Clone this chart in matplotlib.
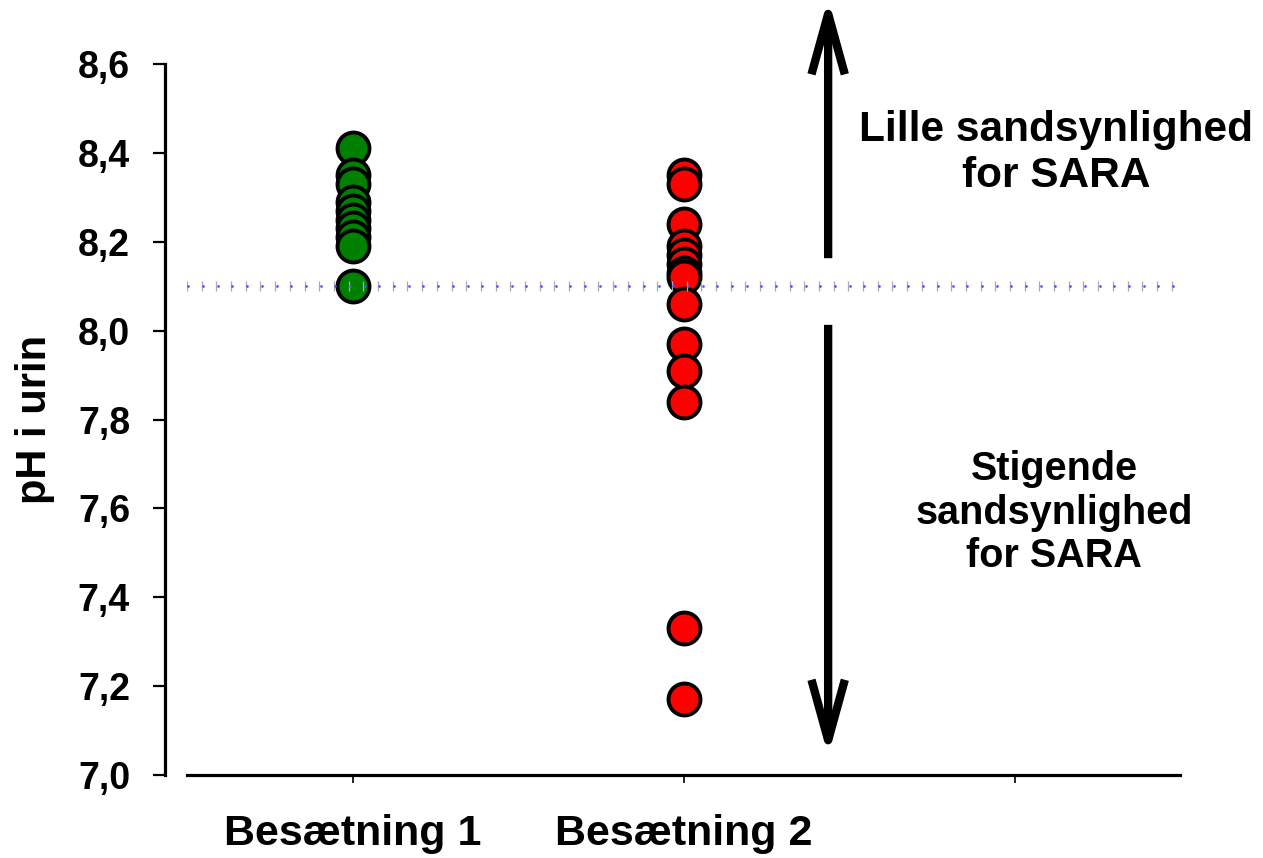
"""
Urine pH per herd, with the 8,1 threshold for SARA risk.
"""

import numpy as np
import matplotlib
matplotlib.use("Agg")
import matplotlib.pyplot as plt
from matplotlib.ticker import FuncFormatter

plt.rcParams['font.family'] = ['Liberation Sans', 'DejaVu Sans']
plt.rcParams['font.weight'] = 'bold'

# Data
herd_labels = ['Besætning 1', 'Besætning 2', '']
herd1_ph = [8.41, 8.35, 8.33, 8.29, 8.27, 8.25, 8.23, 8.21, 8.19, 8.10]
herd2_ph = [8.35, 8.33, 8.24, 8.19, 8.17, 8.15, 8.13, 8.12, 8.06, 7.97, 7.91, 7.84, 7.33, 7.17]
threshold = 8.1
y_ticks = [7.0, 7.2, 7.4, 7.6, 7.8, 8.0, 8.2, 8.4, 8.6]
text_high = 'Lille sandsynlighed\nfor SARA'
text_low = 'Stigende\nsandsynlighed\nfor SARA'

W, H = 1263, 858
fig = plt.figure(figsize=(W / 100, H / 100), dpi=100)
ax = fig.add_axes([187 / W, 1 - 775 / H, (1180 - 187) / W, (775 - 64) / H])

# Points
ax.scatter(np.full(len(herd1_ph), 1), herd1_ph, s=23 ** 2, c='#008000',
           edgecolors='black', linewidths=2.8, zorder=3, clip_on=False)
ax.scatter(np.full(len(herd2_ph), 2), herd2_ph, s=23 ** 2, c='#ff0000',
           edgecolors='black', linewidths=2.8, zorder=3, clip_on=False)

# Threshold line drawn as small tick marks (on top of the points)
xs = np.arange(0.5, 3.5, 0.0444)
ax.plot(xs, np.full(len(xs), threshold), ls='none', marker='|', ms=7,
        mew=0.9, color='#a8a8b8', zorder=4)
ax.plot(xs + 0.004, np.full(len(xs), threshold), ls='none', marker='.',
        ms=1.8, color='#5050ff', zorder=4)

# Arrows
arrow_kw = dict(arrowstyle='->,head_length=1.45,head_width=0.4', lw=6,
                color='black', shrinkA=0, shrinkB=0, mutation_scale=30,
                capstyle='butt', joinstyle='round')
ax.annotate('', xy=(2.437, 8.748), xytext=(2.437, 8.163),
            arrowprops=arrow_kw, annotation_clip=False)
ax.annotate('', xy=(2.437, 7.043), xytext=(2.437, 8.013),
            arrowprops=arrow_kw, annotation_clip=False)

ax.text(3.125, 8.40, text_high, ha='center', va='center', fontsize=30.5,
        fontweight='bold', linespacing=1.2, clip_on=False)
ax.text(3.12, 7.59, text_low, ha='center', va='center', fontsize=28.5,
        fontweight='bold', linespacing=1.18, clip_on=False)

# Axes
ax.set_xlim(0.5, 3.5)
ax.set_ylim(7.0, 8.6)
ax.set_xticks([1, 2, 3])
ax.set_xticklabels(herd_labels, fontsize=31, fontweight='bold')
ax.set_yticks(y_ticks)
ax.yaxis.set_major_formatter(FuncFormatter(lambda v, p: f'{v:.1f}'.replace('.', ',')))
for lab in ax.get_yticklabels():
    lab.set_fontsize(27)
    lab.set_fontweight('bold')
ax.tick_params(axis='y', length=9, width=1.6, pad=16, labelsize=27)
ax.tick_params(axis='x', length=6, width=1.2, pad=22, labelsize=31)

ax.spines['top'].set_visible(False)
ax.spines['right'].set_visible(False)
ax.spines['left'].set_position(('outward', 16))
ax.spines['left'].set_linewidth(2.3)
ax.spines['bottom'].set_linewidth(2.3)

ax.set_ylabel('pH i urin', fontsize=30, fontweight='bold')
ax.yaxis.set_label_coords(-0.133, 0.5)

fig.savefig('out.png', dpi=100)
